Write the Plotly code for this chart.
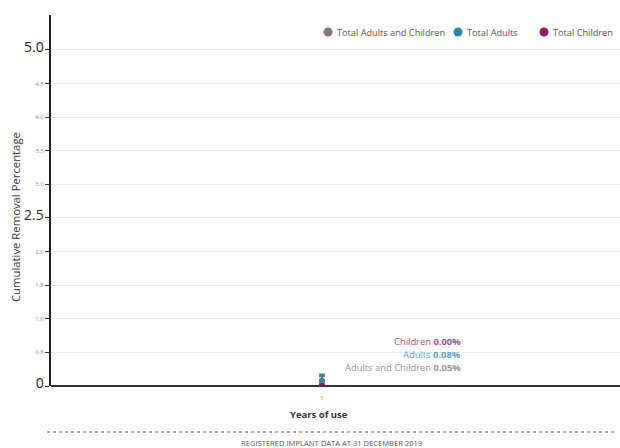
import plotly.graph_objects as go

years = [1]
series_names = ["Total Adults and Children", "Total Adults", "Total Children"]
values = {"Total Adults and Children": [0.05], "Total Adults": [0.08], "Total Children": [0.00]}
err_upper = {"Total Adults and Children": [0.10], "Total Adults": [0.09], "Total Children": [0.0]}
err_lower = {"Total Adults and Children": [0.04], "Total Adults": [0.06], "Total Children": [0.0]}
colors = {"Total Adults and Children": "#8a7671", "Total Adults": "#2f86a6", "Total Children": "#8c1a66"}
label_names = ["Children", "Adults", "Adults and Children"]
label_values = [0.00, 0.08, 0.05]
label_colors = ["#a04c86", "#5aa3c0", "#9a9290"]
y_ticks = [0, 0.5, 1.0, 1.5, 2.0, 2.5, 3.0, 3.5, 4.0, 4.5, 5.0]
big_ticks = [0, 2.5, 5.0]

W, H = 620, 448
L, R, T, B = 51, 0, 15, 62
pw, ph = W - L - R, H - T - B
def px(x): return (x - L) / pw
def py(y): return 1 - (y - T) / ph

fig = go.Figure()
for name in series_names:
    fig.add_trace(go.Scatter(
        x=years, y=values[name], name=name, mode="markers", showlegend=False,
        marker=dict(color=colors[name], size=6),
        error_y=dict(type="data", symmetric=False, array=err_upper[name],
                     arrayminus=err_lower[name], color=colors[name], thickness=2, width=3),
    ))

ticktext = []
for t in y_ticks:
    if t in big_ticks:
        s = "0" if t == 0 else f"{t:.1f}"
        ticktext.append(f'<span style="font-size:14px;fill:#222">{s}</span>')
    else:
        ticktext.append(f"{t:.1f}")

# custom legend (marker dot + label)
legend_x = [328, 458, 544]
for name, lx in zip(series_names, legend_x):
    fig.add_shape(type="circle", xref="paper", yref="paper",
                  x0=px(lx - 4.5), x1=px(lx + 4.5), y0=py(32 + 4.5), y1=py(32 - 4.5),
                  fillcolor=colors[name], line=dict(width=0))
    fig.add_annotation(x=px(lx + 7), y=py(32), xref="paper", yref="paper", showarrow=False,
                       xanchor="left", yanchor="middle", text=name,
                       font=dict(size=9.2, family="Open Sans", color="#555"))

for i, (n, v, c) in enumerate(zip(label_names, label_values, label_colors)):
    fig.add_annotation(x=px(463), y=py(341 + 13 * i), xref="paper", yref="paper", showarrow=False,
                       xanchor="right", yanchor="middle",
                       text=f'<span style="color:{c}">{n} <b>{v:.2f}%</b></span>',
                       font=dict(size=9.4, family="Open Sans"))
fig.add_annotation(x=px(331), y=py(443), xref="paper", yref="paper", showarrow=False,
                   xanchor="center", yanchor="middle",
                   text="REGISTERED IMPLANT DATA AT 31 DECEMBER 2019",
                   font=dict(size=7.6, family="Open Sans", color="#555"))
fig.add_annotation(x=px(319), y=py(415), xref="paper", yref="paper", showarrow=False,
                   xanchor="center", yanchor="middle", text="<b>Years of use</b>",
                   font=dict(size=9.5, family="Open Sans", color="#333"))
fig.add_annotation(x=px(15), y=py(217), xref="paper", yref="paper", showarrow=False,
                   xanchor="center", yanchor="middle", textangle=-90,
                   text="Cumulative Removal Percentage",
                   font=dict(size=11.3, family="Open Sans", color="#333"))
fig.add_shape(type="line", xref="paper", yref="paper", x0=px(47), x1=px(616), y0=py(432), y1=py(432),
              line=dict(color="#555", width=1.2, dash="dot"))

fig.update_layout(
    width=W, height=H, margin=dict(l=L, r=R, t=T, b=B),
    paper_bgcolor="white", plot_bgcolor="white",
    font=dict(family="Open Sans", color="#444"),
    showlegend=False,
    xaxis=dict(range=[0, 2.1], tickvals=years, ticktext=[str(y) for y in years],
               tickfont=dict(size=6, color="#888"), showgrid=False, zeroline=False,
               showline=False, ticks="", ticklabelstandoff=7),
    yaxis=dict(range=[0, 5.52], tickvals=y_ticks, ticktext=ticktext,
               tickfont=dict(size=6, color="#888"), ticks="outside", ticklen=4, tickcolor="#333",
               showgrid=True, gridcolor="#e8e8e8", gridwidth=1, zeroline=True, zerolinecolor="#333",
               zerolinewidth=2, showline=True, linecolor="#222", linewidth=2),
)
fig.write_html("out.html", config={"displayModeBar": False},
               post_script="document.body.style.margin='0';document.body.style.overflow='hidden';")
